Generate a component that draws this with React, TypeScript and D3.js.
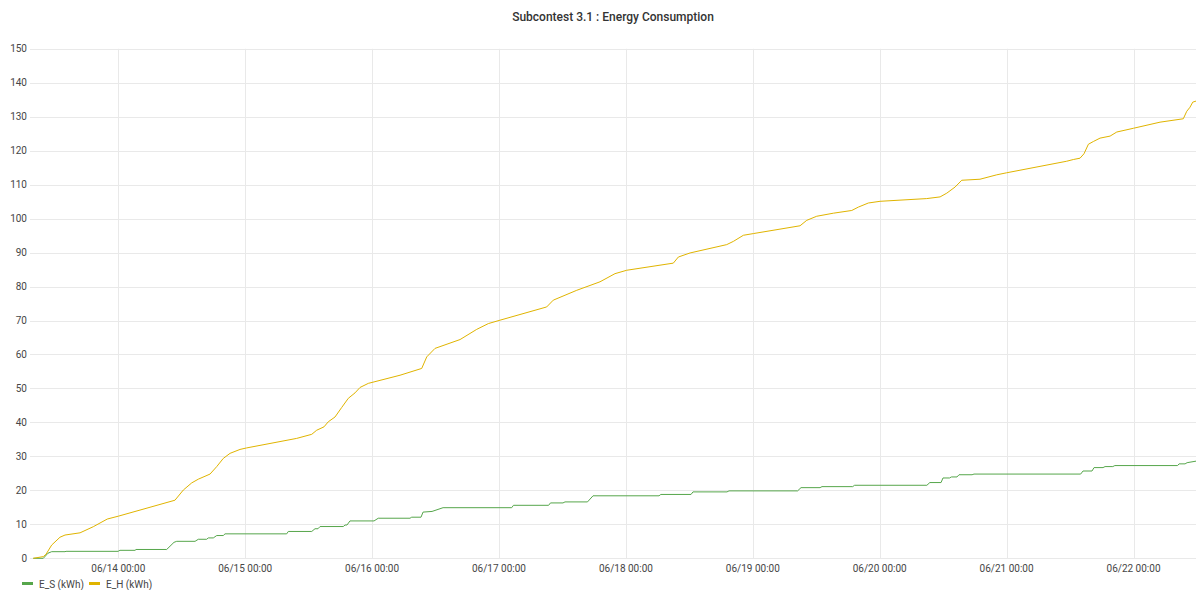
import React from "react";
import * as d3 from "d3";

const TITLE = "Subcontest 3.1 : Energy Consumption";

const domainStart = "06/13 07:18";
const domainEnd = "06/22 11:49";

const xTickLabels = ["06/14 00:00", "06/15 00:00", "06/16 00:00", "06/17 00:00", "06/18 00:00", "06/19 00:00", "06/20 00:00", "06/21 00:00", "06/22 00:00"];
const yTicks = [0, 10, 20, 30, 40, 50, 60, 70, 80, 90, 100, 110, 120, 130, 140, 150];

const ehTimes = [
  "06/13 07:55", "06/13 09:49", "06/13 10:20", "06/13 11:24", "06/13 12:58", "06/13 13:55", "06/13 16:46", "06/13 19:16", "06/13 21:55",
  "06/14 00:00", "06/14 10:43", "06/14 12:18", "06/14 13:53", "06/14 15:08", "06/14 17:21", "06/14 18:37", "06/14 19:51", "06/14 21:08", "06/14 23:01",
  "06/15 00:17", "06/15 09:44", "06/15 12:35", "06/15 13:31", "06/15 14:54", "06/15 15:43", "06/15 16:59", "06/15 18:15", "06/15 19:30", "06/15 20:46", "06/15 21:43", "06/15 23:17",
  "06/16 05:17", "06/16 09:23", "06/16 10:20", "06/16 11:54", "06/16 16:38", "06/16 19:47", "06/16 21:59",
  "06/17 00:11", "06/17 09:01", "06/17 10:16", "06/17 14:42", "06/17 19:06", "06/17 21:56",
  "06/18 00:09", "06/18 08:58", "06/18 09:55", "06/18 12:08", "06/18 19:04", "06/18 20:19", "06/18 22:13",
  "06/19 00:06", "06/19 08:56", "06/19 10:12", "06/19 12:05", "06/19 15:14", "06/19 18:43", "06/19 19:58", "06/19 21:51",
  "06/20 00:04", "06/20 08:53", "06/20 11:25", "06/20 12:41", "06/20 14:15", "06/20 15:31", "06/20 18:58", "06/20 22:08",
  "06/21 00:01", "06/21 11:22", "06/21 12:37", "06/21 13:53", "06/21 14:38", "06/21 15:28", "06/21 16:24", "06/21 17:40", "06/21 19:34", "06/21 20:50", "06/21 23:58",
  "06/22 05:01", "06/22 09:25", "06/22 10:04", "06/22 10:41", "06/22 11:12", "06/22 11:49"
];
const ehValues = [
  0, 0.5, 1.2, 3.9, 6.2, 6.85, 7.5, 9.3, 11.56,
  12.4, 17.1, 20.1, 22.2, 23.3, 24.8, 27, 29.4, 30.9, 32.05,
  32.5, 35.3, 36.5, 37.7, 38.7, 40.2, 41.6, 44.4, 47.1, 48.7, 50.3, 51.5,
  53.9, 55.9, 59.3, 61.8, 64.4, 67.4, 69.1,
  70.1, 74, 76, 78.9, 81.4, 83.8,
  84.8, 86.9, 88.7, 89.9, 92.35, 93.3, 95.1,
  95.6, 97.9, 99.5, 100.7, 101.6, 102.4, 103.4, 104.6,
  105.1, 105.9, 106.4, 107.5, 109.3, 111.3, 111.6, 112.9,
  113.5, 116.9, 117.4, 117.8, 119.1, 121.9, 122.7, 123.7, 124.3, 125.5, 126.6,
  128.4, 129.4, 131.6, 132.8, 134.3, 134.6
];

const esTimes = [
  "06/13 07:55", "06/13 09:49", "06/13 10:42", "06/13 11:24", "06/13 13:55", "06/13 14:07", "06/13 23:57",
  "06/14 00:19", "06/14 03:10", "06/14 03:21", "06/14 09:09", "06/14 10:32", "06/14 11:03", "06/14 14:31", "06/14 15:08", "06/14 16:43", "06/14 17:01", "06/14 17:58", "06/14 18:37", "06/14 19:51", "06/14 20:11",
  "06/15 07:51", "06/15 08:09", "06/15 12:35", "06/15 13:12", "06/15 13:46", "06/15 14:09", "06/15 18:33", "06/15 18:53", "06/15 19:15", "06/15 19:49",
  "06/16 00:22", "06/16 01:10", "06/16 07:10", "06/16 07:29", "06/16 09:15", "06/16 09:38", "06/16 11:20", "06/16 13:25",
  "06/17 02:24", "06/17 02:44", "06/17 09:23", "06/17 09:44", "06/17 12:06", "06/17 12:29", "06/17 16:44", "06/17 17:47",
  "06/18 06:16", "06/18 06:36", "06/18 12:19", "06/18 12:41", "06/18 19:07", "06/18 19:30",
  "06/19 08:28", "06/19 09:07", "06/19 12:43", "06/19 13:05", "06/19 18:53", "06/19 19:15",
  "06/20 08:55", "06/20 09:29", "06/20 11:36", "06/20 11:58", "06/20 13:12", "06/20 13:34", "06/20 14:37", "06/20 15:00", "06/20 17:28", "06/20 17:50",
  "06/21 14:00", "06/21 14:27", "06/21 16:09", "06/21 16:32", "06/21 18:14", "06/21 18:37", "06/21 20:05", "06/21 20:28",
  "06/22 08:20", "06/22 08:37", "06/22 09:45", "06/22 10:08", "06/22 11:49"
];
const esValues = [
  0, 0, 1.5, 1.95, 1.95, 2.05, 2.05,
  2.35, 2.35, 2.6, 2.6, 4.7, 5.0, 5.0, 5.6, 5.6, 6.0, 6.0, 6.7, 6.7, 7.2,
  7.2, 7.9, 7.9, 8.7, 8.7, 9.35, 9.35, 9.8, 9.8, 11.0,
  11.0, 11.8, 11.8, 12.1, 12.1, 13.6, 13.8, 14.9,
  14.9, 15.6, 15.6, 16.3, 16.3, 16.6, 16.6, 18.4,
  18.4, 18.8, 18.8, 19.55, 19.55, 19.85,
  19.85, 20.8, 20.8, 21.1, 21.1, 21.5,
  21.5, 22.3, 22.3, 23.65, 23.65, 23.95, 23.95, 24.6, 24.6, 24.8,
  24.8, 25.7, 25.7, 26.7, 26.7, 27.0, 27.0, 27.3,
  27.3, 27.8, 27.8, 28.15, 28.6
];

const seriesNames = ["E_S (kWh)", "E_H (kWh)"];
const seriesColors = ["#56A64B", "#E0B400"];

const W = 1196;
const H = 590;
const FONT = "Roboto, 'Noto Sans', sans-serif";

export default function App() {
  const parse = d3.timeParse("%m/%d %H:%M");
  const x = d3
    .scaleTime()
    .domain([parse(domainStart)!, parse(domainEnd)!])
    .range([30, 1196]);
  const y = d3.scaleLinear().domain([0, 150]).range([558.3, 48.8]);

  const line = d3
    .line<[Date, number]>()
    .x((d) => x(d[0]))
    .y((d) => y(d[1]));

  const es: [Date, number][] = esTimes.map((t, i) => [parse(t)!, esValues[i]]);
  const eh: [Date, number][] = ehTimes.map((t, i) => [parse(t)!, ehValues[i]]);
  const xTicks = xTickLabels.map((t) => parse(t)!);
  const fmt = d3.timeFormat("%m/%d %H:%M");

  return (
    <svg
      width={W}
      height={H}
      style={{ position: "absolute", left: 0, top: 0, background: "#fff" }}
      fontFamily={FONT}
    >
      <text x={613} y={21} textAnchor="middle" fontSize={12} fontWeight={500} fill="#333">
        {TITLE}
      </text>
      {yTicks.map((v) => (
        <g key={"y" + v}>
          <line x1={30} x2={1196} y1={Math.round(y(v)) + 0.5} y2={Math.round(y(v)) + 0.5} stroke="#e9e9e9" strokeWidth={1} />
          <text x={27} y={y(v)} dy="0.35em" textAnchor="end" fontSize={10} fill="#464646">
            {v}
          </text>
        </g>
      ))}
      {xTicks.map((t) => (
        <g key={"x" + t.getTime()}>
          <line x1={Math.round(x(t)) + 0.5} x2={Math.round(x(t)) + 0.5} y1={y(150)} y2={y(0)} stroke="#e9e9e9" strokeWidth={1} />
          <text x={x(t)} y={572} textAnchor="middle" fontSize={10} fill="#464646">
            {fmt(t)}
          </text>
        </g>
      ))}
      <path d={line(es) || ""} fill="none" stroke={seriesColors[0]} strokeWidth={1} />
      <path d={line(eh) || ""} fill="none" stroke={seriesColors[1]} strokeWidth={1} />
      <g>
        <rect x={22} y={582} width={11} height={3} fill={seriesColors[0]} />
        <text x={39} y={584} dy="0.35em" fontSize={10} fill="#464646">
          {seriesNames[0]}
        </text>
        <rect x={89} y={582} width={11} height={3} fill={seriesColors[1]} />
        <text x={106} y={584} dy="0.35em" fontSize={10} fill="#464646">
          {seriesNames[1]}
        </text>
      </g>
    </svg>
  );
}
